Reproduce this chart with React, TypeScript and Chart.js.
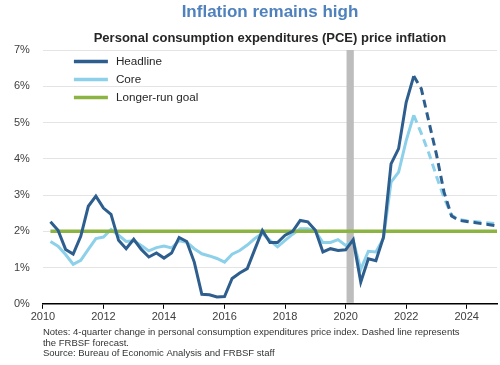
import React, { useEffect, useRef } from 'react';
import { Chart, registerables } from 'chart.js';

Chart.register(...registerables);

const FONT = '"Liberation Sans", Arial, Helvetica, sans-serif';

const chartTitle = 'Inflation remains high';
const chartSubtitle = 'Personal consumption expenditures (PCE) price inflation';
const seriesNames = ['Headline', 'Core', 'Longer-run goal'];
const noteLines = [
  'Notes: 4-quarter change in personal consumption expenditures price index. Dashed line represents',
  'the FRBSF forecast.',
  'Source: Bureau of Economic Analysis and FRBSF staff',
];

const histQuarters = [
  '2010Q1', '2010Q2', '2010Q3', '2010Q4',
  '2011Q1', '2011Q2', '2011Q3', '2011Q4',
  '2012Q1', '2012Q2', '2012Q3', '2012Q4',
  '2013Q1', '2013Q2', '2013Q3', '2013Q4',
  '2014Q1', '2014Q2', '2014Q3', '2014Q4',
  '2015Q1', '2015Q2', '2015Q3', '2015Q4',
  '2016Q1', '2016Q2', '2016Q3', '2016Q4',
  '2017Q1', '2017Q2', '2017Q3', '2017Q4',
  '2018Q1', '2018Q2', '2018Q3', '2018Q4',
  '2019Q1', '2019Q2', '2019Q3', '2019Q4',
  '2020Q1', '2020Q2', '2020Q3', '2020Q4',
  '2021Q1', '2021Q2', '2021Q3', '2021Q4',
  '2022Q1',
];

const headline = [
  2.26, 2.03, 1.50, 1.37,
  1.86, 2.69, 2.97, 2.64,
  2.47, 1.75, 1.52, 1.78,
  1.50, 1.29, 1.40, 1.26,
  1.40, 1.83, 1.72, 1.15,
  0.26, 0.25, 0.19, 0.20,
  0.70, 0.85, 0.97, 1.50,
  2.02, 1.69, 1.69, 1.89,
  2.00, 2.30, 2.26, 2.03,
  1.43, 1.52, 1.47, 1.49,
  1.77, 0.60, 1.24, 1.19,
  1.84, 3.86, 4.28, 5.56,
  6.28,
];

const core = [
  1.72, 1.59, 1.36, 1.09,
  1.20, 1.50, 1.80, 1.84,
  2.05, 1.89, 1.72, 1.74,
  1.61, 1.46, 1.55, 1.59,
  1.54, 1.74, 1.70, 1.52,
  1.38, 1.32, 1.25, 1.15,
  1.37, 1.47, 1.62, 1.80,
  1.94, 1.75, 1.57, 1.75,
  1.92, 2.07, 2.07, 2.00,
  1.69, 1.69, 1.77, 1.61,
  1.75, 0.95, 1.45, 1.43,
  1.80, 3.36, 3.63, 4.50,
  5.20,
];

const forecastQuarters = [
  '2022Q1', '2022Q2', '2022Q3', '2022Q4',
  '2023Q1', '2023Q2', '2023Q3', '2023Q4',
  '2024Q1', '2024Q2', '2024Q3', '2024Q4',
];
const headlineForecast = [6.28, 5.93, 5.02, 4.12, 3.08, 2.42, 2.30, 2.27, 2.24, 2.21, 2.18, 2.15];
const coreForecast = [5.20, 4.70, 4.15, 3.52, 2.93, 2.44, 2.32, 2.29, 2.27, 2.25, 2.23, 2.21];

const goalQuarters = ['2010Q1', '2024Q4'];
const goalValues = [2, 2];

const recessionSpan = [2020.03, 2020.27];

const xTickYears = [2010, 2012, 2014, 2016, 2018, 2020, 2022, 2024];
const yTickValues = [0, 1, 2, 3, 4, 5, 6, 7];

const COLORS = {
  headline: '#2d5e8e',
  core: '#8dd0ea',
  goal: '#8cb443',
  recession: '#bdbdbd',
  title: '#4f81bd',
  text: '#262626',
  tick: '#404040',
  grid: '#e4e4e4',
};

// quarter-end position, e.g. 2010Q1 -> 2010.25
const qToYear = (q: string) => Number(q.slice(0, 4)) + Number(q.slice(5)) / 4;

const toPoints = (qs: string[], vals: number[]) => qs.map((q, i) => ({ x: qToYear(q), y: vals[i] }));

const recessionPlugin = {
  id: 'recession',
  beforeDatasetsDraw(chart: any) {
    const { ctx, chartArea, scales } = chart;
    const x1 = scales.x.getPixelForValue(recessionSpan[0]);
    const x2 = scales.x.getPixelForValue(recessionSpan[1]);
    ctx.save();
    ctx.fillStyle = COLORS.recession;
    ctx.fillRect(x1, chartArea.top, x2 - x1, chartArea.bottom - chartArea.top - 1);
    ctx.restore();
  },
};

const legendPlugin = {
  id: 'customLegend',
  afterDatasetsDraw(chart: any) {
    const { ctx, chartArea } = chart;
    const colors = [COLORS.headline, COLORS.core, COLORS.goal];
    ctx.save();
    seriesNames.forEach((name, i) => {
      const y = chartArea.top + 11.5 + i * 18;
      ctx.strokeStyle = colors[i];
      ctx.lineWidth = 3.5;
      ctx.beginPath();
      ctx.moveTo(chartArea.left + 31, y);
      ctx.lineTo(chartArea.left + 65, y);
      ctx.stroke();
      ctx.fillStyle = COLORS.text;
      ctx.font = `11.7px ${FONT}`;
      ctx.textBaseline = 'middle';
      ctx.textAlign = 'left';
      ctx.fillText(name, chartArea.left + 73, y + 0.5);
    });
    ctx.restore();
  },
};

const notesPlugin = {
  id: 'notes',
  afterDraw(chart: any) {
    const { ctx, chartArea } = chart;
    ctx.save();
    ctx.fillStyle = '#333333';
    ctx.font = `9.5px ${FONT}`;
    ctx.textBaseline = 'middle';
    ctx.textAlign = 'left';
    noteLines.forEach((line, i) => {
      ctx.fillText(line, chartArea.left, chartArea.bottom + 29 + i * 10.3);
    });
    ctx.restore();
  },
};

export default function App() {
  const canvasRef = useRef<HTMLCanvasElement | null>(null);

  useEffect(() => {
    if (!canvasRef.current) return;
    Chart.defaults.font.family = FONT;
    const chart = new Chart(canvasRef.current, {
      type: 'line',
      data: {
        datasets: [
          {
            label: seriesNames[0],
            data: toPoints(histQuarters, headline),
            borderColor: COLORS.headline,
            borderWidth: 3,
            pointRadius: 0,
            tension: 0,
            borderJoinStyle: 'miter',
            order: 0,
          },
          {
            label: seriesNames[0] + ' forecast',
            data: toPoints(forecastQuarters, headlineForecast),
            borderColor: COLORS.headline,
            borderWidth: 3,
            borderDash: [8, 5],
            pointRadius: 0,
            tension: 0,
            order: 0,
          },
          {
            label: seriesNames[2],
            data: toPoints(goalQuarters, goalValues),
            borderColor: COLORS.goal,
            borderWidth: 3.5,
            pointRadius: 0,
            order: 1,
          },
          {
            label: seriesNames[1],
            data: toPoints(histQuarters, core),
            borderColor: COLORS.core,
            borderWidth: 3,
            pointRadius: 0,
            tension: 0,
            borderJoinStyle: 'miter',
            order: 2,
          },
          {
            label: seriesNames[1] + ' forecast',
            data: toPoints(forecastQuarters, coreForecast),
            borderColor: COLORS.core,
            borderWidth: 3,
            borderDash: [8, 5],
            pointRadius: 0,
            tension: 0,
            order: 2,
          },
        ] as any,
      },
      options: {
        animation: false,
        responsive: false,
        maintainAspectRatio: false,
        layout: { padding: { left: 1, right: 3, top: 0, bottom: 39 } },
        plugins: {
          legend: { display: false },
          tooltip: { enabled: false },
          title: {
            display: true,
            text: chartTitle,
            color: COLORS.title,
            fullSize: false,
            font: { family: FONT, size: 17, weight: 'bold' },
            padding: { top: 2, bottom: 4 },
          },
          subtitle: {
            display: true,
            text: chartSubtitle,
            color: COLORS.text,
            fullSize: false,
            font: { family: FONT, size: 13, weight: 'bold' },
            padding: { top: 4, bottom: 4 },
          },
        },
        scales: {
          x: {
            type: 'linear',
            min: 2010,
            max: 2025,
            afterBuildTicks: (axis: any) => {
              axis.ticks = xTickYears.map((v) => ({ value: v }));
            },
            ticks: {
              callback: (v: any) => String(v),
              color: COLORS.tick,
              font: { family: FONT, size: 11 },
              padding: 2,
              maxRotation: 0,
              autoSkip: false,
            },
            grid: {
              drawOnChartArea: false,
              drawTicks: true,
              tickLength: 5,
              tickColor: '#000000',
              tickWidth: 1,
            },
            border: { display: true, color: '#000000', width: 1.5 },
          },
          y: {
            type: 'linear',
            min: 0,
            max: 7,
            afterBuildTicks: (axis: any) => {
              axis.ticks = yTickValues.map((v) => ({ value: v }));
            },
            ticks: {
              callback: (v: any) => `${v}%`,
              color: COLORS.tick,
              font: { family: FONT, size: 11 },
              padding: 13,
            },
            grid: { color: COLORS.grid, drawTicks: false, lineWidth: 1 },
            border: { display: false },
          },
        },
      } as any,
      plugins: [recessionPlugin, legendPlugin, notesPlugin],
    });
    return () => chart.destroy();
  }, []);

  return (
    <div style={{ position: 'absolute', left: 0, top: 0, width: 500, height: 365, background: '#ffffff' }}>
      <canvas ref={canvasRef} width={500} height={365} style={{ display: 'block' }} />
    </div>
  );
}
